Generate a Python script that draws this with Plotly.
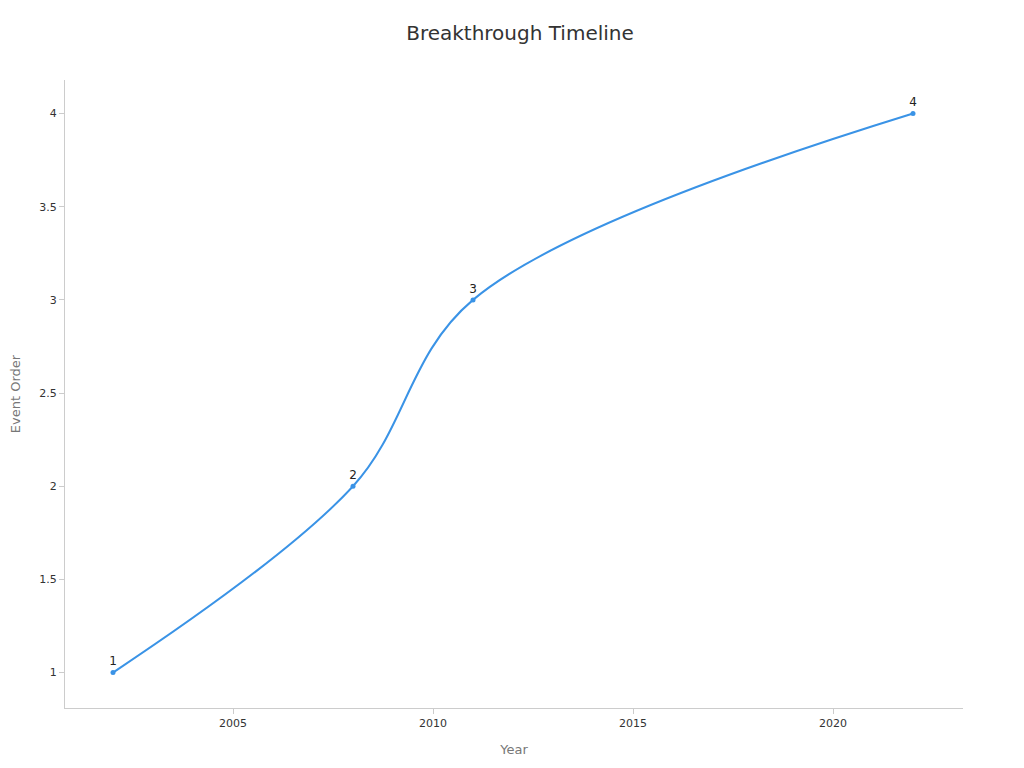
import plotly.graph_objects as go

years = [2002, 2008, 2011, 2022]
order = [1, 2, 3, 4]
labels = ["1", "2", "3", "4"]

fig = go.Figure(go.Scatter(
    x=years, y=order, mode="lines+markers+text", text=labels,
    textposition="top center", textfont=dict(size=12, color="#222"),
    line=dict(shape="spline", smoothing=1.0, color="#3a93e6", width=2),
    marker=dict(size=5, color="#3a93e6"), cliponaxis=False))

fig.update_layout(
    width=1024, height=768, plot_bgcolor="white", paper_bgcolor="white",
    font=dict(family="DejaVu Sans, sans-serif", size=11, color="#333"),
    title=dict(text="Breakthrough Timeline", x=0.5, y=0.977, font=dict(size=20, color="#333")),
    margin=dict(l=57, r=69, t=72, b=68, autoexpand=False), showlegend=False,
    xaxis=dict(title=dict(text="Year", font=dict(size=13, color="#777")), range=[2000.8, 2023.25],
               tickvals=[2005, 2010, 2015, 2020], showgrid=False, zeroline=False,
               showline=True, linecolor="#ccc", ticks="outside", ticklen=5, tickcolor="#ccc"),
    yaxis=dict(title=dict(text="Event Order", font=dict(size=13, color="#777")), range=[0.81, 4.18],
               tickvals=[1, 1.5, 2, 2.5, 3, 3.5, 4], showgrid=False, zeroline=False,
               showline=True, linecolor="#ccc", ticks="outside", ticklen=5, tickcolor="#ccc"),
)
fig.write_html("out.html")
